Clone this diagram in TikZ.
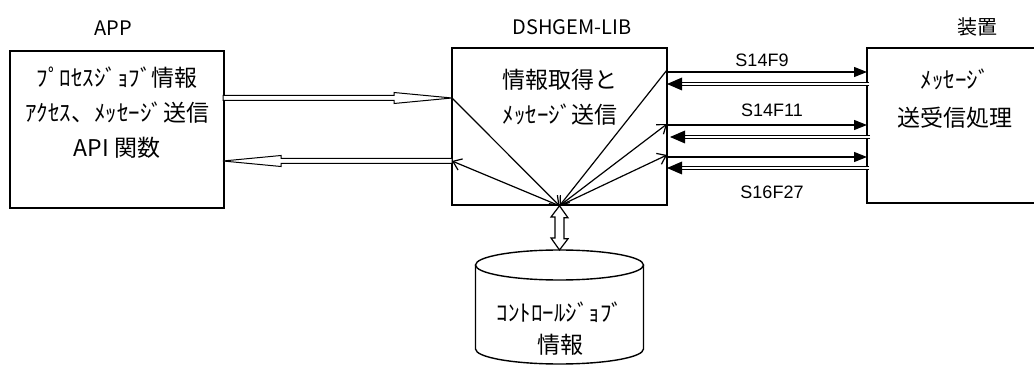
\documentclass[tikz,border=0pt]{standalone}
\usepackage{fontspec}
\newfontfamily\jp{Noto Sans CJK JP}
\newfontfamily\arl{Liberation Sans}
\usetikzlibrary{arrows.meta,calc}
\begin{document}
\begin{tikzpicture}[x=1pt,y=-1pt,
  box/.style={draw, line width=1.6pt, inner sep=0pt},
  jptext/.style={font=\jp\fontsize{23}{35}\selectfont, align=center, inner sep=0pt},
  title/.style={font=\jp\fontsize{20}{24}\selectfont, inner sep=0pt},
  sl/.style={font=\arl\fontsize{18}{20}\selectfont, inner sep=0pt},
  fan/.style={line width=1.2pt, -{Straight Barb[length=8pt,width=12pt]}},
  msg/.style={line width=1.2pt, -{Triangle[length=13pt,width=10pt]}},
  ret/.style={line width=0.9pt, double distance=1.5pt},
  hollow/.style={line width=1pt, fill=white, line join=miter}]
\useasboundingbox (0,0) rectangle (1034,366);
\clip (0,0) rectangle (1034,366);

% boxes
\node[box, minimum width=214pt, minimum height=157pt] (app) at (117,129.5) {};
\node[box, minimum width=215pt, minimum height=157pt] (lib) at (559.5,126.5) {};
\node[box, minimum width=174pt, minimum height=155pt] (dev) at (954,125.5) {};

% titles
\node[title] (tapp) at (113,28) {APP};
\node[title] (tlib) at (572,27) {DSHGEM-LIB};
\node[title] (tdev) at (977,27) {装置};

% texts
\node[jptext] (apptxt) at (117,113) {ﾌﾟﾛｾｽｼﾞｮﾌﾞ情報\\ｱｸｾｽ、ﾒｯｾｰｼﾞ送信\\API\hspace{5pt}関数};
\node[jptext] (libtxt) at (560,97.5) {情報取得と\\ﾒｯｾｰｼﾞ送信};
\node[jptext, font=\jp\fontsize{23}{38}\selectfont] (devtxt) at (955,99) {ﾒｯｾｰｼﾞ\\送受信処理};

% coordinates
\coordinate (f) at (lib.south);
\coordinate (lw1) at (452,98);
\coordinate (lw2) at (452,161);
\coordinate (aw1) at (223,98);
\coordinate (aw2) at (223,161);
\coordinate (le0) at (667,70);
\coordinate (le2) at (667,124);
\coordinate (le3) at (667,155);
\coordinate (r1a) at (667,72);  \coordinate (r1b) at (867,72);
\coordinate (r2a) at (667,84);  \coordinate (r2b) at (869,84);
\coordinate (r3a) at (667,125); \coordinate (r3b) at (867,125);
\coordinate (r4a) at (670,137); \coordinate (r4b) at (870,137);
\coordinate (r5a) at (667,157); \coordinate (r5b) at (867,157);
\coordinate (r6a) at (667,168); \coordinate (r6b) at (869,168);
\coordinate (dbtop) at (559.5,250);
\coordinate (dbc) at (559.5,265);

% hollow arrows APP <-> LIB
\draw[hollow] ($(aw1)+(0,-2.5)$) -- ($(lw1)+(-58,-2.5)$) -- ($(lw1)+(-58,-5.5)$) -- (lw1)
  -- ($(lw1)+(-58,5.5)$) -- ($(lw1)+(-58,2.5)$) -- ($(aw1)+(0,2.5)$) -- cycle;
\draw[hollow] ($(lw2)+(0,-2.5)$) -- ($(aw2)+(58,-2.5)$) -- ($(aw2)+(58,-5.5)$) -- (aw2)
  -- ($(aw2)+(58,5.5)$) -- ($(aw2)+(58,2.5)$) -- ($(lw2)+(0,2.5)$) -- cycle;

% fan lines
\draw[fan] (lw1) -- (f);
\draw[fan] (f) -- (lw2);
\draw[fan] (le0) -- (f);
\draw[fan] (f) -- (le2);
\draw[fan] (f) -- (le3);

% messages
\draw[msg] (r1a) -- (r1b);
\draw[msg] (r3a) -- (r3b);
\draw[msg] (r5a) -- (r5b);
\draw[ret] (r2b) -- ($(r2a)+(14,0)$);
\fill (r2a) -- ($(r2a)+(15,-6.5)$) -- ($(r2a)+(15,6.5)$) -- cycle;
\draw[ret] (r4b) -- ($(r4a)+(14,0)$);
\fill (r4a) -- ($(r4a)+(15,-6.5)$) -- ($(r4a)+(15,6.5)$) -- cycle;
\draw[ret] (r6b) -- ($(r6a)+(14,0)$);
\fill (r6a) -- ($(r6a)+(15,-6.5)$) -- ($(r6a)+(15,6.5)$) -- cycle;

\node[sl] (s1) at (762,60) {S14F9};
\node[sl] (s2) at (772,110) {S14F11};
\node[sl] (s3) at (772,192) {S16F27};

% cylinder
\draw[line width=1.4pt, fill=white] (475.5,265) -- (475.5,349)
  arc[start angle=180, end angle=360, x radius=84pt, y radius=15pt] -- (643.5,265);
\draw[line width=1.4pt, fill=white] (dbc) ellipse [x radius=84pt, y radius=15pt];
\node[jptext, font=\jp\fontsize{23}{32}\selectfont] (dbtxt) at (560,329) {ｺﾝﾄﾛｰﾙｼﾞｮﾌﾞ\\情報};

% vertical hollow double arrow
\draw[hollow, line width=1.2pt] (f) -- ++(8.5,12) -- ++(-4,0) -- ++(0,21) -- ++(4,0) -- (dbtop)
  -- ++(-8.5,-12) -- ++(4,0) -- ++(0,-21) -- ++(-4,0) -- cycle;
\end{tikzpicture}
\end{document}
